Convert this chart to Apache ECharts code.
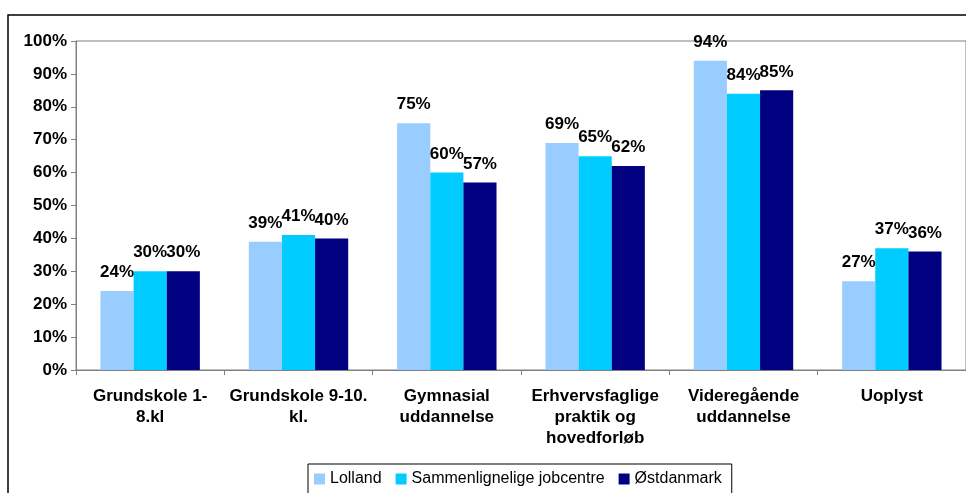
<!DOCTYPE html>
<html>
<head>
<meta charset="utf-8">
<script src="https://cdn.jsdelivr.net/npm/echarts@6/dist/echarts.min.js"></script>
<style>
  html, body { margin: 0; padding: 0; background: #fff; }
  #chart { width: 966px; height: 493px; }
</style>
</head>
<body>
<div id="chart"></div>
<script>
const categories = ['Grundskole 1-\n8.kl', 'Grundskole 9-10.\nkl.', 'Gymnasial\nuddannelse', 'Erhvervsfaglige\npraktik og\nhovedforløb', 'Videregående\nuddannelse', 'Uoplyst']
const lolland = [24, 39, 75, 69, 94, 27]
const sammenlignelige = [30, 41, 60, 65, 84, 37]
const ostdanmark = [30, 40, 57, 62, 85, 36]
const seriesNames = ['Lolland', 'Sammenlignelige jobcentre', 'Østdanmark']
const colors = ['#99ccff', '#00ccff', '#000080']

const font = 'Arial, "Liberation Sans", sans-serif'
const chart = echarts.init(document.getElementById('chart'))

const mkSeries = (name, data, color) => ({
  name: name,
  type: 'bar',
  data: data,
  barGap: '0%',
  barCategoryGap: '33%',
  itemStyle: { color: color },
  label: {
    show: true,
    position: 'top',
    distance: 10,
    formatter: '{c}%',
    color: '#000',
    fontFamily: font,
    fontWeight: 'bold',
    fontSize: 17
  }
})

chart.setOption({
  animation: false,
  color: colors,
  graphic: [
    {
      type: 'rect',
      shape: { x: 8, y: 15, width: 1000, height: 600 },
      style: { fill: 'none', stroke: '#000', lineWidth: 1.5 },
      silent: true
    }
  ],
  grid: {
    left: 76,
    top: 41,
    right: -10,
    bottom: 123,
    show: true,
    borderColor: '#808080',
    borderWidth: 1
  },
  legend: {
    data: seriesNames,
    left: 308,
    top: 464,
    icon: 'rect',
    itemWidth: 11,
    itemHeight: 11,
    itemGap: 14,
    padding: [7, 10, 12, 6],
    borderColor: '#000',
    borderWidth: 1,
    textStyle: { fontFamily: font, fontSize: 16, color: '#000' }
  },
  xAxis: {
    type: 'category',
    data: categories,
    axisLine: { lineStyle: { color: '#808080', width: 1 } },
    axisTick: { show: true, length: 5, lineStyle: { color: '#808080' } },
    axisLabel: {
      interval: 0,
      margin: 16,
      lineHeight: 21,
      color: '#000',
      fontFamily: font,
      fontWeight: 'bold',
      fontSize: 17
    }
  },
  yAxis: {
    type: 'value',
    min: 0,
    max: 100,
    interval: 10,
    axisLine: { show: true, lineStyle: { color: '#808080', width: 1 } },
    axisTick: { show: true, length: 5, lineStyle: { color: '#808080' } },
    splitLine: { show: false },
    axisLabel: {
      formatter: '{value}%',
      margin: 9,
      color: '#000',
      fontFamily: font,
      fontWeight: 'bold',
      fontSize: 17
    }
  },
  series: [
    mkSeries(seriesNames[0], lolland, colors[0]),
    mkSeries(seriesNames[1], sammenlignelige, colors[1]),
    mkSeries(seriesNames[2], ostdanmark, colors[2])
  ]
})
</script>
</body>
</html>
